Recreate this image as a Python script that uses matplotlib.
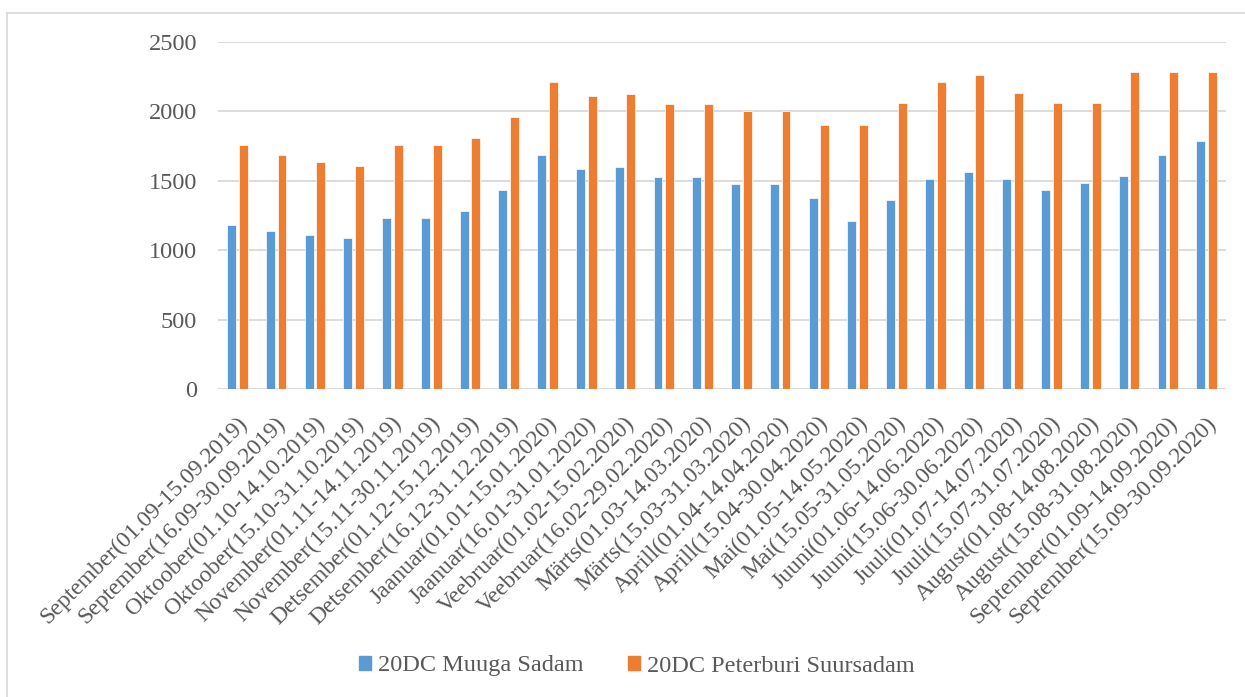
import matplotlib
matplotlib.use("Agg")
import matplotlib.pyplot as plt
import matplotlib.transforms as mtransforms
import numpy as np
from matplotlib.lines import Line2D

categories = [
    "September(01.09-15.09.2019)", "September(16.09-30.09.2019)",
    "Oktoober(01.10-14.10.2019)", "Oktoober(15.10-31.10.2019)",
    "November(01.11-14.11.2019)", "November(15.11-30.11.2019)",
    "Detsember(01.12-15.12.2019)", "Detsember(16.12-31.12.2019)",
    "Jaanuar(01.01-15.01.2020)", "Jaanuar(16.01-31.01.2020)",
    "Veebruar(01.02-15.02.2020)", "Veebruar(16.02-29.02.2020)",
    "Märts(01.03-14.03.2020)", "Märts(15.03-31.03.2020)",
    "Aprill(01.04-14.04.2020)", "Aprill(15.04-30.04.2020)",
    "Mai(01.05-14.05.2020)", "Mai(15.05-31.05.2020)",
    "Juuni(01.06-14.06.2020)", "Juuni(15.06-30.06.2020)",
    "Juuli(01.07-14.07.2020)", "Juuli(15.07-31.07.2020)",
    "August(01.08-14.08.2020)", "August(15.08-31.08.2020)",
    "September(01.09-14.09.2020)", "September(15.09-30.09.2020)",
]
muuga = [1185, 1135, 1110, 1085, 1235, 1235, 1285, 1435, 1685, 1585,
         1600, 1525, 1525, 1475, 1475, 1375, 1210, 1360, 1510, 1560,
         1510, 1435, 1485, 1535, 1685, 1785]
peterburi = [1760, 1685, 1635, 1610, 1760, 1760, 1810, 1960, 2210, 2110,
             2125, 2050, 2050, 2000, 2000, 1900, 1900, 2060, 2210, 2260,
             2135, 2060, 2060, 2285, 2285, 2285]
series_names = ["20DC Muuga Sadam", "20DC Peterburi Suursadam"]
colors = ["#5B9BD5", "#ED7D31"]
yticks = [0, 500, 1000, 1500, 2000, 2500]

W, H = 1245, 697
plt.rcParams["font.family"] = ["Liberation Serif", "DejaVu Serif"]
fig = plt.figure(figsize=(W / 100, H / 100), dpi=100)
txt = "#595959"
grid_c = "#d9d9d9"

ax = fig.add_axes([218 / W, 1 - 389 / H, (1226 - 218) / W, (389 - 42) / H])
x = np.arange(len(categories))
bw = 0.23
off = 0.15
ax.bar(x - off, muuga, bw, color=colors[0], edgecolor="white", linewidth=0.5, zorder=3)
ax.bar(x + off, peterburi, bw, color=colors[1], edgecolor="white", linewidth=0.5, zorder=3)

ax.set_xlim(-0.5, len(categories) - 0.5)
ax.set_ylim(0, 2500)
ax.set_yticks(yticks)
ax.set_yticklabels([str(v) for v in yticks], fontsize=17.5, color=txt)
ax.yaxis.grid(True, color=grid_c, linewidth=1.3, zorder=0)
ax.set_axisbelow(True)
ax.tick_params(axis="y", length=0, pad=15)
ax.tick_params(axis="x", length=0, pad=17)
ax.set_xticks(x)
ax.set_xticklabels(categories, rotation=45, ha="right", va="top",
                   rotation_mode="anchor", fontsize=17, color=txt)
shift = mtransforms.ScaledTranslation(-1 / 100, 0, fig.dpi_scale_trans)
for lab in ax.get_xticklabels():
    lab.set_transform(lab.get_transform() + shift)
for s in ax.spines.values():
    s.set_visible(False)
ax.axhline(0, color=grid_c, linewidth=1.3, zorder=1)

# chart frame (top and left edges)
fig.add_artist(Line2D([7 / W, 1.0], [1 - 13 / H, 1 - 13 / H], color=grid_c, linewidth=1.2))
fig.add_artist(Line2D([7 / W, 7 / W], [0, 1 - 13 / H], color=grid_c, linewidth=1.2))

handles = [plt.Rectangle((0, 0), 1, 1, color=c) for c in colors]
leg = fig.legend(handles, series_names, loc="center", bbox_to_anchor=(637 / W, 1 - 666 / H),
                 ncol=2, frameon=False, fontsize=17.5, handlelength=0.5, handleheight=0.5,
                 handletextpad=0.3, columnspacing=1.8, borderpad=0, borderaxespad=0)
for t in leg.get_texts():
    t.set_color(txt)

fig.savefig("out.png", dpi=100)
